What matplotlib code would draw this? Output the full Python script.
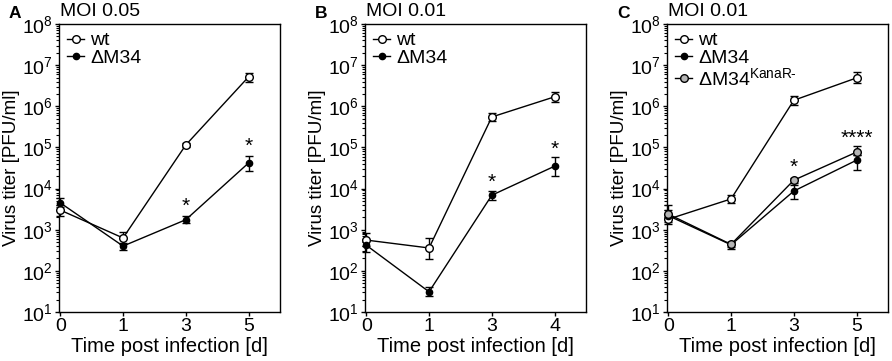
import numpy as np
import matplotlib
matplotlib.use('Agg')
import matplotlib.pyplot as plt
from matplotlib.ticker import FixedLocator, NullFormatter, LogFormatterMathtext

plt.rcParams['font.family'] = ['Liberation Sans', 'DejaVu Sans']
plt.rcParams['mathtext.fontset'] = 'custom'
plt.rcParams['mathtext.rm'] = 'Liberation Sans'
plt.rcParams['mathtext.it'] = 'Liberation Sans'

# panel A, MOI 0.05
a_days = ['0', '1', '3', '5']
a_wt = [3.0e3, 630, 1.15e5, 5.2e6]
a_wt_lo = [900, 180, 1.0e4, 1.2e6]
a_wt_hi = [900, 250, 1.0e4, 1.3e6]
a_m34 = [4.5e3, 400, 1.75e3, 4.2e4]
a_m34_lo = [1000, 70, 300, 1.5e4]
a_m34_hi = [1400, 80, 350, 2.0e4]
a_stars = [(2, 3.8e3, '*'), (3, 1.07e5, '*')]

# panel B, MOI 0.01
b_days = ['0', '1', '3', '4']
b_wt = [560, 360, 5.5e5, 1.7e6]
b_wt_lo = [150, 165, 1.2e5, 4.5e5]
b_wt_hi = [250, 270, 1.5e5, 5.0e5]
b_m34 = [420, 31, 6.9e3, 3.5e4]
b_m34_lo = [130, 7, 1.5e3, 1.5e4]
b_m34_hi = [150, 9, 1.8e3, 2.4e4]
b_stars = [(2, 1.45e4, '*'), (3, 9.1e4, '*')]

# panel C, MOI 0.01
c_days = ['0', '1', '3', '5']
c_wt = [1.8e3, 5.6e3, 1.4e6, 4.9e6]
c_wt_lo = [400, 1.2e3, 3.0e5, 1.2e6]
c_wt_hi = [500, 1.2e3, 4.0e5, 1.8e6]
c_m34 = [2.2e3, 430, 8.7e3, 4.9e4]
c_m34_lo = [700, 90, 3.1e3, 2.1e4]
c_m34_hi = [1800, 80, 3.5e3, 1.7e4]
c_kana = [2.4e3, 440, 1.6e4, 7.7e4]
c_kana_lo = [600, 60, 2.0e3, 1.2e4]
c_kana_hi = [600, 60, 2.0e3, 3.0e4]
c_stars = [(2, 3.3e4, '*'), (3, 1.7e5, '****')]

y_major = [10.0 ** k for k in range(1, 9)]
y_minor = [m * 10.0 ** k for k in range(1, 8) for m in range(2, 10)]

fig = plt.figure(figsize=(8.92, 3.61), dpi=100)

panels = [
    ('A', 'MOI 0.05', 59, a_days, a_stars,
     [('wt', a_wt, a_wt_lo, a_wt_hi, 'white', 5.5),
      ('ΔM34', a_m34, a_m34_lo, a_m34_hi, 'black', 4.5)]),
    ('B', 'MOI 0.01', 365, b_days, b_stars,
     [('wt', b_wt, b_wt_lo, b_wt_hi, 'white', 5.5),
      ('ΔM34', b_m34, b_m34_lo, b_m34_hi, 'black', 4.5)]),
    ('C', 'MOI 0.01', 667, c_days, c_stars,
     [('wt', c_wt, c_wt_lo, c_wt_hi, 'white', 5.5),
      ('ΔM34', c_m34, c_m34_lo, c_m34_hi, 'black', 4.5),
      ('ΔM34$^{\\mathregular{KanaR\u2010}}$', c_kana, c_kana_lo, c_kana_hi, '#b5b5b5', 5.5)]),
]

W, H = 892, 361
for letter, title, left_px, days, stars, series in panels:
    ax = fig.add_axes([left_px / W, 1 - 312 / H, 221 / W, 288 / H])
    x = np.arange(len(days))
    handles = []
    for name, vals, lo, hi, fc, ms in series:
        ax.errorbar(x, vals, yerr=[lo, hi], fmt='none', ecolor='black',
                    elinewidth=1, capsize=3, capthick=1, clip_on=False, zorder=2)
        h, = ax.plot(x, vals, '-o', color='black', lw=1, mfc=fc, mec='black',
                     mew=1, ms=ms, label=name, clip_on=False, zorder=3)
        handles.append(h)
    for xi, yi, s in stars:
        ax.text(xi, yi, s, ha='center', va='center', fontsize=15)
    ax.set_yscale('log')
    ax.set_ylim(10, 1e8)
    ax.set_xlim(-0.02, 3.5)
    ax.xaxis.set_major_locator(FixedLocator(x))
    ax.set_xticklabels(days)
    ax.yaxis.set_major_locator(FixedLocator(y_major))
    ax.yaxis.set_major_formatter(LogFormatterMathtext())
    ax.yaxis.set_minor_locator(FixedLocator(y_minor))
    ax.yaxis.set_minor_formatter(NullFormatter())
    ax.tick_params(axis='both', which='major', direction='out', length=3,
                   width=1, labelsize=14, pad=1.5)
    ax.tick_params(axis='y', which='minor', direction='out', length=2, width=0.8)
    for sp in ax.spines.values():
        sp.set_linewidth(1)
    ax.set_xlabel('Time post infection [d]', fontsize=14.5)
    ax.xaxis.set_label_coords(0.5, -0.087)
    ax.xaxis.label.set_va('top')
    ax.set_ylabel('Virus titer [PFU/ml]', fontsize=13.5, labelpad=1)
    ax.legend(handles=handles, loc='upper left', frameon=False, fontsize=14,
              handlelength=0.9, handletextpad=0.3, labelspacing=0.0,
              borderaxespad=0.2, borderpad=0.2)
    fig.text((left_px + 1) / W, 1 - 12 / H, title, fontsize=14, ha='left', va='center')
    fig.text((left_px - 50) / W, 1 - 14 / H, letter, fontsize=12.5,
             fontweight='bold', ha='left', va='center')

fig.savefig('out.png', dpi=100)
